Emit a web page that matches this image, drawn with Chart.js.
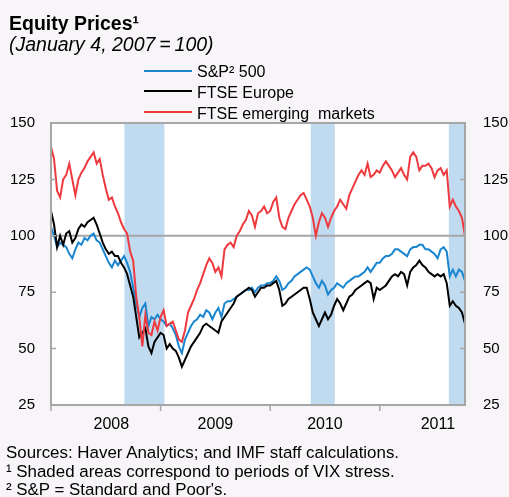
<!DOCTYPE html>
<html>
<head>
<meta charset="utf-8">
<script src="https://cdn.jsdelivr.net/npm/chart.js@4/dist/chart.umd.min.js"></script>
<style>
  body { margin: 0; background: #f8f5f9; }
  #wrap { position: relative; width: 509px; height: 497px; overflow: hidden; font-family: "Liberation Sans", Arial, sans-serif; color: #000; }
  #chart { position: absolute; left: 0; top: 0; }
  .txt { position: absolute; white-space: nowrap; line-height: 1; }
  .title { left: 9px; top: 13.5px; font-size: 19.5px; font-weight: bold; }
  .sub { left: 9px; top: 35px; font-size: 19.5px; font-style: italic; }
  .leg { left: 197px; font-size: 16px; }
  .legline { position: absolute; left: 144px; width: 48px; height: 2px; }
  .note { left: 6px; font-size: 16.9px; }
</style>
</head>
<body>
<div id="wrap">
  <canvas id="chart" width="509" height="497"></canvas>
  <div class="txt title">Equity Prices¹</div>
  <div class="txt sub">(January 4, 2007&#8201;=&#8201;100)</div>
  <div class="legline" style="top:70px;background:#1a86d0"></div>
  <div class="txt leg" style="top:63.5px">S&amp;P² 500</div>
  <div class="legline" style="top:90px;background:#000"></div>
  <div class="txt leg" style="top:84.5px">FTSE Europe</div>
  <div class="legline" style="top:110.5px;background:#ee3a3f"></div>
  <div class="txt leg" style="top:105.5px">FTSE emerging&nbsp; markets</div>
  <div class="txt note" style="top:444.5px">Sources: Haver Analytics; and IMF staff calculations.</div>
  <div class="txt note" style="top:463.5px">¹ Shaded areas correspond to periods of VIX stress.</div>
  <div class="txt note" style="top:482px">² S&amp;P = Standard and Poor's.</div>
</div>
<script>
// sampled every 1/36 of a year starting January 2008
const startYear = 2008;
const stepYear = 1 / 36;

const sp500 = [104, 100, 95, 97, 96, 95, 92, 90, 94, 97, 96, 99, 98, 100, 101, 98, 97, 94, 91, 88,
  86, 89, 87, 89, 91, 88, 84, 77, 70, 64, 68, 70, 60, 64, 63, 65, 63, 62, 60, 61,
  59, 56, 51, 48, 54, 57, 60, 62, 63, 65, 64, 67, 66, 63, 66, 68, 64, 70, 71, 71,
  72, 73, 74, 75, 76, 76, 77, 75, 77, 78, 78, 79, 79, 80, 82, 80, 76, 77, 79, 80,
  82, 83, 84, 85, 86, 85, 82, 79, 77, 80, 78, 74, 76, 77, 79, 78, 77, 79, 80, 81,
  82, 82, 83, 84, 86, 84, 86, 88, 88, 90, 91, 91, 92, 94, 94, 93, 92, 91, 94, 95,
  95, 96, 96, 94, 94, 93, 92, 90, 94, 95, 93, 82, 85, 82, 85, 84, 80];

const ftseEurope = [111, 105, 95, 100, 96, 101, 102, 97, 99, 103, 105, 104, 106, 107, 108, 105, 101, 97, 94, 92,
  93, 91, 91, 88, 86, 83, 78, 73, 64, 55, 57, 59, 51, 48, 53, 55, 57, 56, 50, 52,
  50, 49, 46, 42, 45, 48, 51, 53, 55, 57, 60, 61, 60, 59, 58, 57, 62, 64, 66, 68,
  70, 73, 74, 75, 76, 77, 76, 73, 75, 77, 77, 78, 78, 79, 80, 76, 69, 70, 72, 73,
  74, 75, 76, 77, 77, 72, 66, 63, 60, 63, 66, 63, 65, 69, 72, 70, 67, 70, 73, 74,
  76, 77, 78, 79, 80, 79, 72, 77, 76, 77, 78, 80, 82, 83, 82, 84, 83, 78, 84, 86,
  87, 89, 87, 86, 84, 83, 82, 83, 82, 83, 79, 69, 71, 69, 68, 66, 61];

const ftseEmerging = [139.5, 134, 120, 117, 125, 127, 132, 125, 118, 125, 128, 130, 133, 135, 137, 132, 134, 127, 121, 116,
  117, 113, 110, 106, 103, 101, 93, 89, 73, 64, 51, 65, 57, 56, 62, 58, 64, 67, 60, 61,
  62, 58, 54, 53, 58, 66, 69, 72, 76, 79, 83, 87, 90, 88, 84, 86, 82, 94, 96, 97,
  95, 100, 102, 105, 107, 111, 109, 104, 110, 111, 113, 110, 111, 115, 117, 108, 104, 103, 108, 111,
  114, 116, 118, 119, 116, 113, 108, 100, 106, 110, 108, 104, 108, 111, 113, 116, 114, 112, 118, 121,
  124, 127, 129, 127, 132, 126, 127, 129, 128, 131, 133, 131, 129, 126, 128, 130, 127, 125, 135, 137,
  135, 129, 131, 131, 132, 130, 126, 129, 130, 127, 129, 113, 116, 113, 111, 108, 100];

// VIX stress periods (fractional years)
const shadeStart = [2008.67, 2010.37, 2011.63];
const shadeEnd = [2009.035, 2010.59, 2011.78];

const yearTicks = [2008, 2009, 2010, 2011];
const yearLabels = ['2008', '2009', '2010', '2011'];
const yearLabelPos = [2008.55, 2009.5, 2010.5, 2011.53];
const yTicks = [25, 50, 75, 100, 125, 150];

const xMax = startYear + (sp500.length - 1) * stepYear;

function toPoints(values) {
  return values.map((v, i) => ({ x: startYear + i * stepYear, y: v }));
}

const frameColor = '#a6a6a6';

const decorations = {
  id: 'decorations',
  beforeDatasetsDraw(chart) {
    const ctx = chart.ctx;
    const area = chart.chartArea;
    const x = chart.scales.x;
    const y = chart.scales.y;
    ctx.save();
    ctx.fillStyle = '#fff';
    ctx.fillRect(area.left, area.top, area.right - area.left, area.bottom - area.top);
    ctx.fillStyle = '#c0daf0';
    shadeStart.forEach((s, i) => {
      const x0 = x.getPixelForValue(s);
      const x1 = Math.min(x.getPixelForValue(shadeEnd[i]), area.right);
      ctx.fillRect(x0, area.top, x1 - x0, area.bottom - area.top);
    });
    // reference line at 100
    ctx.strokeStyle = frameColor;
    ctx.lineWidth = 2;
    const y100 = y.getPixelForValue(100);
    ctx.beginPath();
    ctx.moveTo(area.left, y100);
    ctx.lineTo(area.right, y100);
    ctx.stroke();
    ctx.restore();
  },
  afterDraw(chart) {
    const ctx = chart.ctx;
    const area = chart.chartArea;
    const x = chart.scales.x;
    const y = chart.scales.y;
    ctx.save();
    ctx.strokeStyle = frameColor;
    ctx.lineWidth = 2;
    ctx.strokeRect(area.left, area.top, area.right - area.left, area.bottom - area.top);
    ctx.lineWidth = 1.5;
    ctx.beginPath();
    yTicks.forEach(v => {
      const py = y.getPixelForValue(v);
      ctx.moveTo(area.left, py);
      ctx.lineTo(area.left + 5, py);
      ctx.moveTo(area.right, py);
      ctx.lineTo(area.right - 5, py);
    });
    yearTicks.forEach(v => {
      const px = x.getPixelForValue(v);
      ctx.moveTo(px, area.bottom);
      ctx.lineTo(px, area.bottom + 6);
    });
    ctx.stroke();
    ctx.restore();
  }
};

const yAxis = (position, padding, width) => ({
  type: 'linear',
  position: position,
  min: 25,
  max: 150,
  grid: { display: false, drawTicks: false },
  border: { display: false },
  ticks: {
    stepSize: 25,
    padding: padding,
    color: '#000',
    font: { family: 'Liberation Sans', size: 15 }
  },
  afterFit: scale => { scale.width = width; }
});

new Chart(document.getElementById('chart'), {
  type: 'line',
  data: {
    datasets: [
      { label: 'FTSE emerging markets', data: toPoints(ftseEmerging), borderColor: '#ee3a3f' },
      { label: 'FTSE Europe', data: toPoints(ftseEurope), borderColor: '#000000' },
      { label: 'S&P² 500', data: toPoints(sp500), borderColor: '#1a86d0' }
    ].map(d => Object.assign(d, { borderWidth: 2, pointRadius: 0, tension: 0, fill: false }))
  },
  options: {
    responsive: false,
    animation: false,
    devicePixelRatio: 1,
    layout: { padding: { top: 123, left: 0, right: 0, bottom: 0 } },
    plugins: { legend: { display: false }, tooltip: { enabled: false } },
    scales: {
      x: {
        type: 'linear',
        min: startYear,
        max: xMax,
        grid: { display: false, drawTicks: false },
        border: { display: false },
        afterBuildTicks: scale => { scale.ticks = yearLabelPos.map(v => ({ value: v })); },
        ticks: {
          autoSkip: false,
          maxRotation: 0,
          padding: 10,
          color: '#000',
          font: { family: 'Liberation Sans', size: 16 },
          callback: (v, i) => yearLabels[i]
        },
        afterFit: scale => { scale.height = 92; }
      },
      y: yAxis('left', 16, 51),
      y2: yAxis('right', 18, 44)
    }
  },
  plugins: [decorations]
});
</script>
</body>
</html>
